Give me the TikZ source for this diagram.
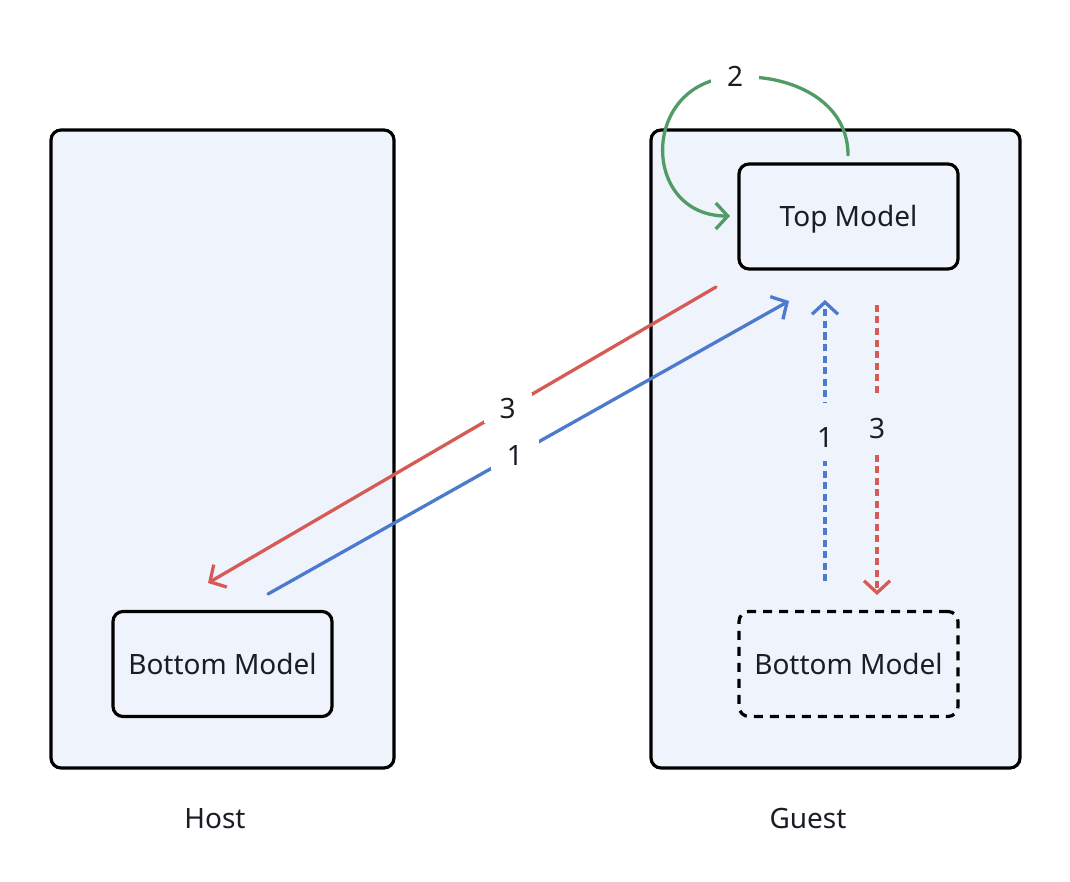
\documentclass[tikz,border=0pt]{standalone}
\usepackage{fontspec}
\setmainfont{Noto Sans}
\usetikzlibrary{arrows.meta}
\definecolor{bgblue}{HTML}{EFF4FC}
\definecolor{redA}{HTML}{D65B57}
\definecolor{blueA}{HTML}{4C7ACD}
\definecolor{greenA}{HTML}{519B65}
\definecolor{txt}{HTML}{1A1E24}
\tikzset{
  txtstyle/.style={text=txt, font=\fontsize{28}{32}\selectfont, text height=20pt, text depth=0pt},
  container/.style={draw=black, line width=3.2pt, fill=bgblue, rounded corners=10pt, minimum width=#1, minimum height=638pt, inner sep=0pt},
  modelbox/.style={draw=black, line width=3.2pt, fill=bgblue, rounded corners=10pt, minimum width=219pt, minimum height=105pt, inner sep=0pt, txtstyle},
  ghostbox/.style={modelbox, dash pattern=on 9pt off 7pt},
  caption/.style={txtstyle},
  lbl/.style={fill=#1, txtstyle, inner sep=0pt, minimum width=48pt, minimum height=30pt},
  vlbl/.style={fill=bgblue, txtstyle, text height=30pt, inner sep=0pt, minimum width=30pt, minimum height=58pt},
  flow/.style={line width=3.3pt, line cap=round, line join=round, -{Straight Barb[length=12pt,width=26pt,line width=3.3pt]}},
  dashflow/.style={flow, dash pattern=on 7pt off 4.5pt, line cap=butt},
}
\begin{document}
\begin{tikzpicture}[x=1pt,y=-1pt]
\useasboundingbox (0,0) rectangle (1070,882);
\fill[white] (0,0) rectangle (1070,882);
% containers
\node[container=343pt] (host) at (222.5,449) {};
\node[container=369pt] (guest) at (835.5,449) {};
% models
\node[modelbox] (top) at (848.5,216.5) {Top Model};
\node[modelbox] (hbot) at (222.5,664) {Bottom Model};
\node[ghostbox] (gbot) at (848.5,664) {Bottom Model};
% captions
\node[caption] (hostlbl) at (215,818) {Host};
\node[caption] (guestlbl) at (808,818) {Guest};
% connector end points
\coordinate (rs) at (716,287);
\coordinate (re) at (208,583);
\coordinate (bs) at (268,594);
\coordinate (be) at (789,301);
\coordinate (vbs) at (825,581);
\coordinate (vbe) at (825,300);
\coordinate (vrs) at (877,305);
\coordinate (vre) at (877,595);
\coordinate (gs) at (848,155);
\coordinate (gm) at (735,77);
\coordinate (ge) at (730,216);
% diagonal arrows
\draw[flow, draw=redA] (rs) -- node[pos=0.41, lbl=white] (l3) {3} (re);
\draw[flow, draw=blueA] (bs) -- node[pos=0.474, lbl=white] (l1) {1} (be);
% vertical dashed arrows
\draw[dashflow, draw=blueA] (vbs) -- node[pos=0.53, vlbl] (l1b) {1} (vbe);
\draw[dashflow, draw=redA] (vrs) -- node[pos=0.41, vlbl] (l3b) {3} (vre);
% green loop
\draw[flow, draw=greenA] (gs) .. controls (848,100) and (790,74) .. (gm)
   .. controls (640,80) and (640,216) .. (ge);
\node[lbl=white] (l2) at (gm) {2};
\end{tikzpicture}
\end{document}
